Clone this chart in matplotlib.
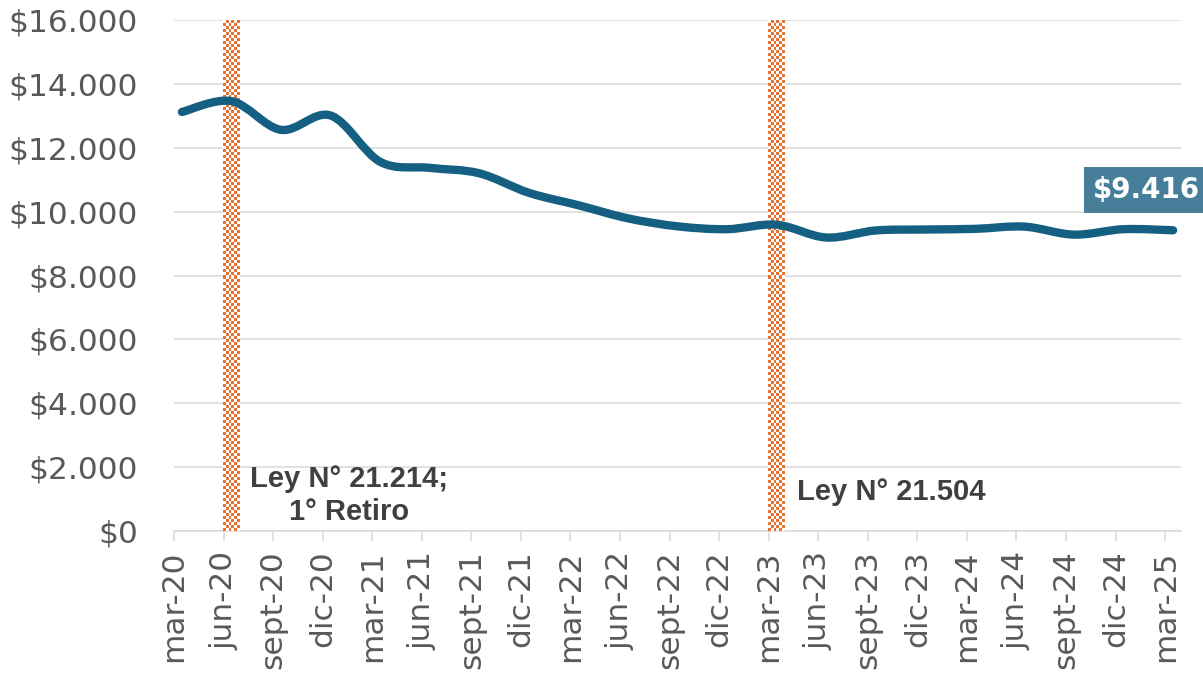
import matplotlib
matplotlib.use("Agg")
import matplotlib.pyplot as plt
import numpy as np
from matplotlib.path import Path
from matplotlib.patches import PathPatch
from matplotlib.colors import ListedColormap

categories = ["mar-20", "jun-20", "sept-20", "dic-20", "mar-21", "jun-21", "sept-21",
              "dic-21", "mar-22", "jun-22", "sept-22", "dic-22", "mar-23", "jun-23",
              "sept-23", "dic-23", "mar-24", "jun-24", "sept-24", "dic-24", "mar-25"]
values = [13120, 13460, 12560, 13010, 11560, 11370, 11200, 10590, 10200, 9790,
          9540, 9450, 9590, 9190, 9410, 9440, 9460, 9530, 9280, 9450, 9416]
event_cats = ["jun-20", "mar-23"]
event_labels = ["Ley N° 21.214;\n1° Retiro", "Ley N° 21.504"]
event_label_pos = [(3.38, 1110), (14.31, 1220)]
yticks = list(range(0, 16001, 2000))
ytick_labels = ["$" + f"{v:,}".replace(",", ".") for v in yticks]
last_label = "$9.416"

LINE = "#156082"
ORANGE = "#E97132"
GRID = "#D9D9D9"

fig = plt.figure(figsize=(12.03, 6.8), dpi=100)
ax = fig.add_axes([174 / 1203, 1 - 531 / 680, (1181 - 174) / 1203, 511 / 680])

x = np.arange(len(categories), dtype=float)
y = np.array(values, dtype=float)

# smoothed line (Catmull-Rom Bezier, as Excel's smoothed line)
verts = [(x[0], y[0])]
codes = [Path.MOVETO]
n = len(x)
for i in range(n - 1):
    p0 = (x[max(i - 1, 0)], y[max(i - 1, 0)])
    p1 = (x[i], y[i])
    p2 = (x[i + 1], y[i + 1])
    p3 = (x[min(i + 2, n - 1)], y[min(i + 2, n - 1)])
    c1 = (p1[0] + (p2[0] - p0[0]) / 6, p1[1] + (p2[1] - p0[1]) / 6)
    c2 = (p2[0] - (p3[0] - p1[0]) / 6, p2[1] - (p3[1] - p1[1]) / 6)
    verts += [c1, c2, p2]
    codes += [Path.CURVE4] * 3
patch = PathPatch(Path(verts, codes), facecolor="none", edgecolor=LINE, lw=6.0,
                  capstyle="round", joinstyle="round", zorder=5)
ax.add_patch(patch)

# checkered event bars
bw = 0.33
checker = (np.indices((170, 6)).sum(axis=0) % 2).astype(float)
cmap = ListedColormap(["white", ORANGE])
for c in event_cats:
    xi = categories.index(c)
    ax.imshow(checker, cmap=cmap, extent=[xi - bw / 2, xi + bw / 2, 0, 16000],
              aspect="auto", interpolation="nearest", zorder=3)

for (tx, ty), lab in zip(event_label_pos, event_labels):
    ax.text(tx, ty, lab, ha="center", va="center", multialignment="center",
            fontsize=21, fontweight="bold", color="#404040", family="Liberation Sans",
            zorder=6, linespacing=1.2)

ax.annotate(last_label, xy=(x[-1], y[-1]), xytext=(-19.5, 28.8), textcoords="offset points",
            ha="center", va="center", fontsize=20, fontweight="bold", color="white",
            family="DejaVu Sans", annotation_clip=False, zorder=7,
            bbox=dict(boxstyle="square,pad=0.32", fc="#477F9B", ec="none"))

ax.set_xlim(-0.16, 20.16)
ax.set_ylim(0, 16000)
ax.set_yticks(yticks)
ax.set_yticklabels(ytick_labels)
ax.set_xticks(x - 0.16)
ax.set_xticklabels(categories, rotation=90)
ax.yaxis.grid(True, color=GRID, lw=1.1)
ax.set_axisbelow(True)
for s in ["left", "right", "top"]:
    ax.spines[s].set_visible(False)
ax.spines["bottom"].set_color(GRID)
ax.spines["bottom"].set_linewidth(1.1)
ax.spines["bottom"].set_zorder(2)
ax.tick_params(axis="y", length=0, pad=26, labelsize=22.5, labelcolor="#595959")
ax.tick_params(axis="x", length=7, width=1.1, color=GRID, pad=7, labelsize=22.5,
               labelcolor="#595959")
for lab in ax.get_xticklabels() + ax.get_yticklabels():
    lab.set_family("DejaVu Sans")

fig.savefig("out.png", dpi=100)
